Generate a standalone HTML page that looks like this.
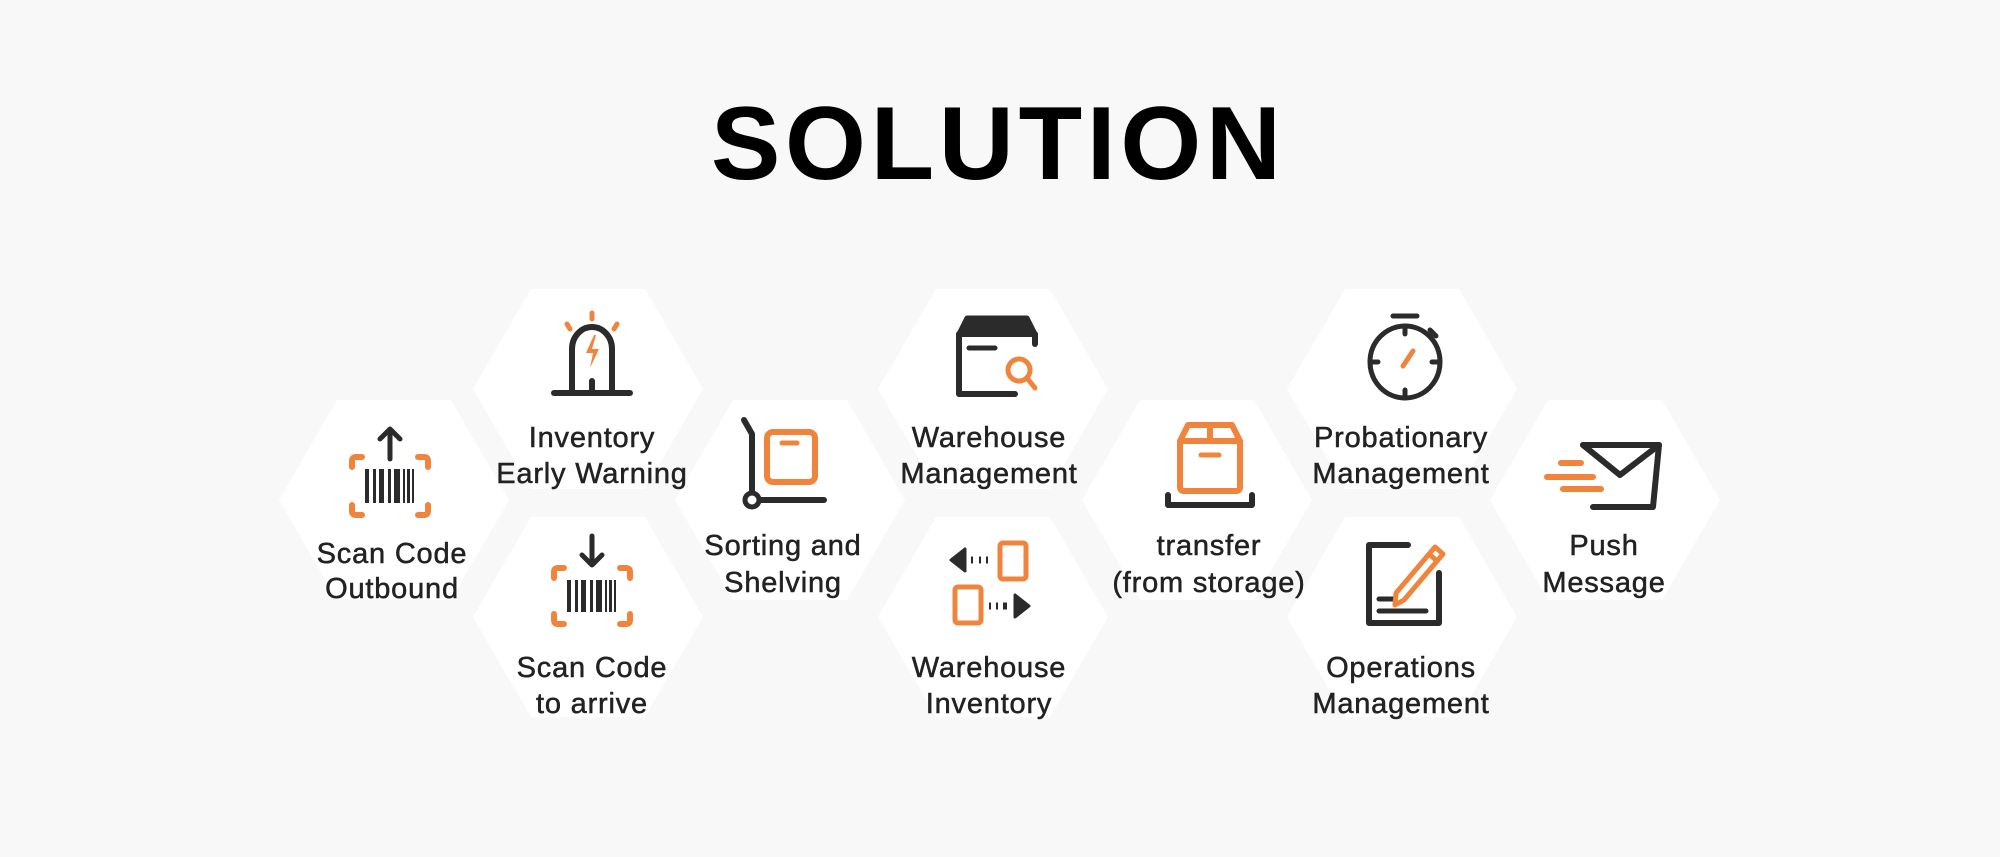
<!DOCTYPE html>
<html><head><meta charset="utf-8"><style>
html,body{margin:0;padding:0;background:#f8f8f8;}
svg{display:block;}
text{font-family:"Liberation Sans","Noto Sans CJK SC",sans-serif;}
</style></head><body>
<svg width="2000" height="857" viewBox="0 0 2000 857" xmlns="http://www.w3.org/2000/svg">
<defs>
<polygon id="hex" points="-115,0 -57,-100 57,-100 115,0 57,100 -57,100" fill="#ffffff"/>
</defs>
<rect width="2000" height="857" fill="#f8f8f8"/>
<text x="711" y="179" font-size="104" font-weight="bold" fill="#000" textLength="570" lengthAdjust="spacing">SOLUTION</text>

<use href="#hex" x="394" y="500"/>
<use href="#hex" x="588" y="389"/>
<use href="#hex" x="588" y="617"/>
<use href="#hex" x="790" y="500"/>
<use href="#hex" x="993" y="389"/>
<use href="#hex" x="993" y="617"/>
<use href="#hex" x="1197" y="500"/>
<use href="#hex" x="1402" y="389"/>
<use href="#hex" x="1402" y="617"/>
<use href="#hex" x="1605" y="500"/>

<g font-size="29" fill="#222" stroke="#222" stroke-width="0.5" text-anchor="middle" letter-spacing="0.8">
<text x="392" y="563">Scan Code</text><text x="392" y="598">Outbound</text>
<text x="592" y="447">Inventory</text><text x="592" y="483">Early Warning</text>
<text x="592" y="677">Scan Code</text><text x="592" y="713">to arrive</text>
<text x="783" y="555">Sorting and</text><text x="783" y="592">Shelving</text>
<text x="989" y="447">Warehouse</text><text x="989" y="483">Management</text>
<text x="989" y="677">Warehouse</text><text x="989" y="713">Inventory</text>
<text x="1209" y="555">transfer</text><text x="1209" y="592">(from storage)</text>
<text x="1401" y="447">Probationary</text><text x="1401" y="483">Management</text>
<text x="1604" y="555">Push</text><text x="1604" y="592">Message</text>
<text x="1401" y="677">Operations</text><text x="1401" y="713">Management</text>
</g>

<g fill="none" stroke-linecap="round" stroke-linejoin="round">
<g transform="translate(390,471)">
<path d="M0,-12 V-42 M-10,-32 L0,-42 L10,-32" stroke="#2b2b2b" stroke-width="5"/>
<path d="M-38,-4 V-10 Q-38,-14 -34,-14 H-28 M28,-14 H34 Q38,-14 38,-10 V-4 M-38,34 V40 Q-38,44 -34,44 H-28 M28,44 H34 Q38,44 38,40 V34" stroke="#f0843c" stroke-width="6"/>
<g fill="#2b2b2b" stroke="none"><rect x="-25" y="-2" width="4" height="34"/><rect x="-17" y="-2" width="3" height="34"/><rect x="-11" y="-2" width="5" height="34"/><rect x="-2" y="-2" width="3" height="34"/><rect x="4" y="-2" width="6" height="34"/><rect x="13" y="-2" width="2" height="34"/><rect x="17" y="-2" width="3" height="34"/><rect x="22" y="-2" width="2" height="34"/></g>
</g>
<g transform="translate(592,580)">
<path d="M0,-44 V-16 M-10,-25 L0,-15 L10,-25" stroke="#2b2b2b" stroke-width="5"/>
<path d="M-38,-2 V-8 Q-38,-12 -34,-12 H-28 M28,-12 H34 Q38,-12 38,-8 V-2 M-38,34 V40 Q-38,44 -34,44 H-28 M28,44 H34 Q38,44 38,40 V34" stroke="#f0843c" stroke-width="6"/>
<g fill="#2b2b2b" stroke="none"><rect x="-25" y="0" width="4" height="32"/><rect x="-17" y="0" width="3" height="32"/><rect x="-11" y="0" width="5" height="32"/><rect x="-2" y="0" width="3" height="32"/><rect x="4" y="0" width="6" height="32"/><rect x="13" y="0" width="2" height="32"/><rect x="17" y="0" width="3" height="32"/><rect x="22" y="0" width="2" height="32"/></g>
</g>
<g transform="translate(592,353)">
<path d="M-20,38 V-4 A20,22 0 0 1 20,-4 V38" stroke="#2b2b2b" stroke-width="6"/>
<path d="M-38,40 H38 M0,28 V40" stroke="#2b2b2b" stroke-width="6"/>
<path d="M0,-40 V-34 M-25,-29 L-22,-24 M25,-29 L22,-24" stroke="#f0843c" stroke-width="5"/>
<polygon points="2,-18 -6,0 1,0 -2,15 7,-4 0,-4 4,-18" fill="#f0843c" stroke="none"/>
</g>
<g transform="translate(784,462)">
<path d="M-40,-42 L-32,-28 V30" stroke="#2b2b2b" stroke-width="6"/>
<circle cx="-32" cy="38" r="7" stroke="#2b2b2b" stroke-width="5"/>
<path d="M-24,38 H40" stroke="#2b2b2b" stroke-width="6"/>
<rect x="-17" y="-30" width="48" height="50" rx="6" stroke="#f0843c" stroke-width="6"/>
<path d="M-2,-19 H13" stroke="#f0843c" stroke-width="5"/>
</g>
<g transform="translate(997,356)">
<path d="M-38,-22 L-30,-38 H30 L38,-22 Z" fill="#2b2b2b" stroke="#2b2b2b" stroke-width="5"/>
<path d="M38,-12 V-22 H-38 V38 H18" stroke="#2b2b2b" stroke-width="6"/>
<path d="M-28,-8 H-2" stroke="#2b2b2b" stroke-width="5"/>
<circle cx="22" cy="14" r="11" stroke="#f0843c" stroke-width="5"/>
<path d="M30,22 L38,32" stroke="#f0843c" stroke-width="5"/>
</g>
<g transform="translate(991,583)">
<rect x="9" y="-40" width="26" height="36" rx="3" stroke="#f0843c" stroke-width="5"/>
<rect x="-36" y="4" width="26" height="36" rx="3" stroke="#f0843c" stroke-width="5"/>
<polygon points="-40,-23 -26,-34 -26,-12" fill="#2b2b2b" stroke="#2b2b2b" stroke-width="3"/>
<path d="M-20,-23 H-18 M-12,-23 H-10 M-5,-23 H-3" stroke="#2b2b2b" stroke-width="7" stroke-linecap="butt"/>
<polygon points="38,23 24,12 24,34" fill="#2b2b2b" stroke="#2b2b2b" stroke-width="3"/>
<path d="M-2,23 H0 M5,23 H7 M12,23 H16" stroke="#2b2b2b" stroke-width="7" stroke-linecap="butt"/>
</g>
<g transform="translate(1210,465)">
<path d="M-30,-24 L-22,-40 H22 L30,-24 V22 Q30,26 26,26 H-26 Q-30,26 -30,22 Z M-30,-24 H30 M0,-40 V-24" stroke="#f0843c" stroke-width="6"/>
<path d="M-9,-10 H9" stroke="#f0843c" stroke-width="5"/>
<path d="M-42,30 V40 H42 V30" stroke="#2b2b2b" stroke-width="6"/>
</g>
<g transform="translate(1405,354)">
<ellipse cx="0" cy="8" rx="35" ry="36" stroke="#2b2b2b" stroke-width="5"/>
<path d="M-12,-38 H12" stroke="#2b2b2b" stroke-width="5"/>
<path d="M0,-28 V-20 M0,36 V44 M-35,8 H-27 M27,8 H35 M25,-24 L31,-18" stroke="#2b2b2b" stroke-width="5"/>
<path d="M-2,12 L8,-3" stroke="#f0843c" stroke-width="5"/>
</g>
<g transform="translate(1603,475)">
<path d="M-20,-30 H56 L50,32 H-10" stroke="#2b2b2b" stroke-width="6"/>
<path d="M-20,-30 L17,0 L56,-30" stroke="#2b2b2b" stroke-width="6"/>
<path d="M-42,-12 H-22 M-56,2 H-10 M-40,14 H-2" stroke="#f0843c" stroke-width="6"/>
</g>
<g transform="translate(1405,583)">
<path d="M3,-38 H-36 V40 H34 V-10" stroke="#2b2b2b" stroke-width="6"/>
<path d="M-26,16 H-11 M-26,28 H21" stroke="#2b2b2b" stroke-width="5"/>
<path d="M-10,22 L-9,10 L30,-36 L38,-29 L-1,17 Z M24,-29 L32,-22" stroke="#f0843c" stroke-width="5"/>
</g>
</g>
</svg>
</body></html>
